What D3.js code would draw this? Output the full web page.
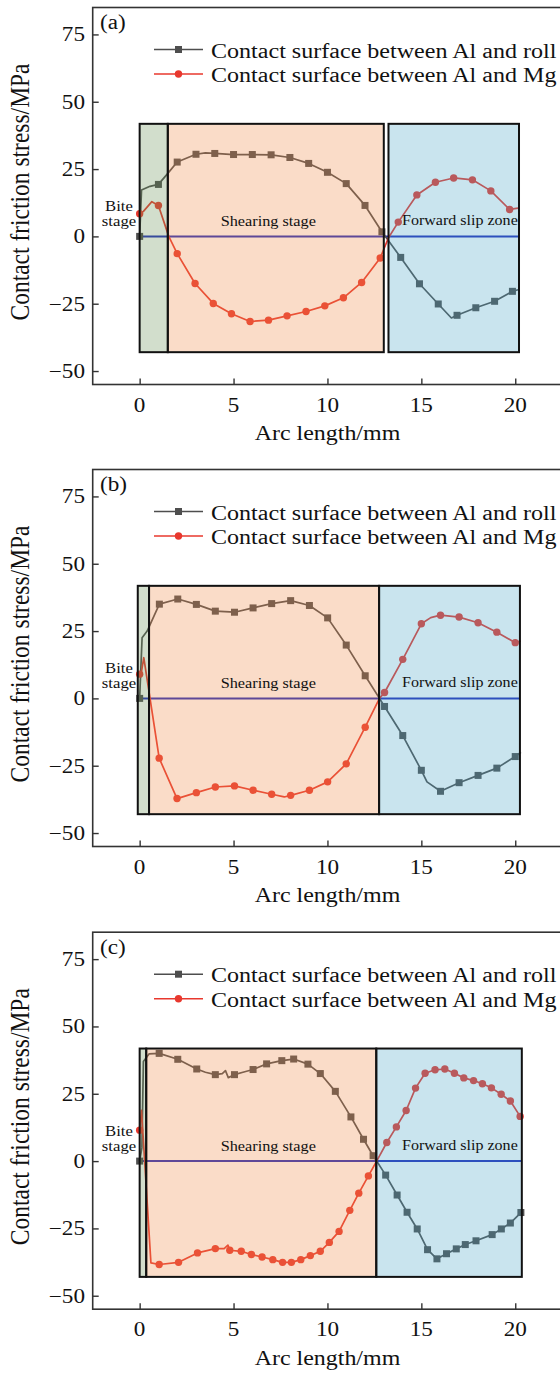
<!DOCTYPE html>
<html>
<head>
<meta charset="utf-8">
<script src="https://cdn.jsdelivr.net/npm/d3@7"></script>
<style>
  html, body { margin: 0; padding: 0; background: #fff; }
  text { font-family: "Liberation Serif", "Times New Roman", serif; fill: #111; }
</style>
</head>
<body>
<svg id="fig" width="560" height="1373"></svg>
<script>
// ---- tick values and text ----
const arcTicks = [0, 5, 10, 15, 20];
const stressTicks = [-50, -25, 0, 25, 50, 75];
const seriesNames = ["Contact surface between Al and roll", "Contact surface between Al and Mg"];
const panelLabels = ["(a)", "(b)", "(c)"];
const xTitle = "Arc length/mm";
const yTitle = "Contact friction stress/MPa";

// ---- series: [arc length mm, stress MPa, marker shown] ----
const rollA = [[0,0,1],[0.1,17.2,0],[0.55,18.6,0],[1.0,19.3,1],[1.5,23.4,0],[2.0,27.6,1],[3.0,30.5,1],[3.5,31.0,0],[4.0,30.8,1],[5,30.4,1],[6,30.4,1],[7,30.3,1],[8,29.3,1],[9,27.1,1],[10,23.8,1],[11,19.6,1],[12,11.5,1],[12.9,1.7,1],[13.9,-7.8,1],[14.9,-17.6,1],[15.9,-25.1,1],[16.6,-30.3,0],[16.9,-29.3,1],[17.9,-26.5,1],[18.9,-24.1,1],[19.85,-20.4,1],[20.15,-19.8,0]];
const mgA = [[0,8.4,1],[0.2,9.3,0],[0.65,12.9,0],[1.0,11.5,1],[1.55,0,0],[2.0,-6.4,1],[2.95,-17.5,1],[3.92,-24.9,1],[4.89,-28.7,1],[5.88,-31.6,1],[6.86,-31.1,1],[7.85,-29.5,1],[8.86,-27.9,1],[9.86,-25.8,1],[10.85,-22.8,1],[11.82,-17.1,1],[12.81,-8.0,1],[13.25,-0.5,0],[13.77,5.3,1],[14.76,15.4,1],[15.75,20.1,1],[16.72,21.7,1],[17.72,21.0,1],[18.7,16.9,1],[19.7,10.0,1],[20.15,10.5,0]];

const rollB = [[0,0,1],[0.13,22.5,0],[0.4,25,0],[1.05,35,1],[2.03,36.9,1],[3.02,34.9,1],[4.03,32.4,1],[5.05,32,1],[6.04,33.6,1],[7.03,35.2,1],[8.04,36.3,1],[9.04,34.5,1],[10.01,29.9,1],[11.0,19.8,1],[12.01,8.4,1],[12.77,0,0],[13.04,-3.0,1],[14.01,-13.8,1],[15.0,-26.7,1],[15.3,-31,0],[16.02,-34.5,1],[17.01,-31.3,1],[18.02,-28.6,1],[19.02,-25.9,1],[20.0,-21.6,1],[20.3,-20,0]];
const mgB = [[0,9,1],[0.1,10,0],[0.22,15.1,0],[1.04,-22.2,1],[1.99,-37.2,1],[3.02,-35,1],[4.03,-32.9,1],[5.05,-32.5,1],[6.04,-34.1,1],[7.03,-35.6,1],[7.7,-36.6,0],[8.04,-36,1],[9.04,-34.1,1],[10.01,-31,1],[11.0,-24.3,1],[12.01,-10.7,1],[12.77,0,0],[13.04,2.2,1],[14.01,14.5,1],[15.0,27.7,1],[15.5,30,0],[16.02,30.9,1],[17.01,30.2,1],[18.02,28.1,1],[19.02,24.6,1],[20.0,20.7,1],[20.3,21.3,0]];

const rollC = [[0,0,1],[0.12,5,0],[0.2,37,0],[0.5,39.8,0],[1.04,40,1],[2.03,37.8,1],[3.04,34.2,1],[3.5,33,0],[4.03,32.1,1],[4.4,32.5,0],[4.57,33.6,0],[4.72,31.0,0],[5.05,32.1,1],[5.5,33,0],[6.04,34,1],[6.76,36.1,1],[7.57,37.3,1],[8.2,37.9,1],[8.96,36,1],[9.62,32.5,1],[10.42,25.9,1],[11.25,16.4,1],[11.92,8.1,1],[12.43,2.0,1],[12.62,0,0],[13.1,-5.2,1],[13.71,-12.6,1],[14.24,-19,1],[14.78,-25.2,1],[15.33,-32.9,1],[15.83,-36.3,1],[16.34,-34.4,1],[16.86,-32.6,1],[17.34,-31,1],[17.91,-29.6,1],[18.77,-27.3,1],[19.26,-25.2,1],[19.74,-23,1],[20.3,-19.1,1]];
const mgC = [[0,11.5,1],[0.1,18.8,0],[0.6,-37.8,0],[1.04,-38.4,1],[2.07,-37.6,1],[3.08,-34.1,1],[4.03,-32.5,1],[4.5,-32.5,0],[4.7,-31.2,0],[4.8,-33.1,1],[5.41,-33.5,1],[5.95,-34.7,1],[6.52,-35.6,1],[7.09,-36.6,1],[7.61,-37.6,1],[8.08,-37.6,1],[8.58,-36.6,1],[9.09,-35.1,1],[9.62,-33.5,1],[10.1,-30.2,1],[10.62,-26.1,1],[11.19,-18.3,1],[11.67,-11.9,1],[12.18,-5.5,1],[12.62,0,0],[13.16,6.9,1],[13.67,12.7,1],[14.19,18.8,1],[14.69,27.1,1],[15.2,32.6,1],[15.73,33.9,1],[16.25,34.2,1],[16.76,32.6,1],[17.26,30.9,1],[17.78,29.9,1],[18.25,28.7,1],[18.73,27.2,1],[19.25,24.8,1],[19.74,22.3,1],[20.26,16.6,1]];

// ---- deformation stages: [start, end] in mm ----
const stageNames = ["Bite stage", "Shearing stage", "Forward slip zone"];
const stagesA = [[0, 1.5], [1.5, 13.0], [13.25, 20.2]];
const stagesB = [[-0.1, 0.5], [0.5, 12.75], [12.75, 20.25]];
const stagesC = [[0, 0.35], [0.35, 12.6], [12.6, 20.35]];
const stageStress = [-43, 41.8];

const panels = [
  { label: panelLabels[0], roll: rollA, mg: mgA, stages: stagesA },
  { label: panelLabels[1], roll: rollB, mg: mgB, stages: stagesB },
  { label: panelLabels[2], roll: rollC, mg: mgC, stages: stagesC }
];

// ---- layout ----
const SX = 1.13;                        // horizontal stretch of the lettering
const panelTop = [0, 462, 924.7];
const x = d3.scaleLinear().domain([-2.5, 22.5]).range([92.7, 562.2]);
const y = d3.scaleLinear().domain([-55, 85]).range([384.5, 7.5]);

const colors = { roll: "#4e4e4e", mg: "#e8382e", zero: "#202cba", axis: "#333" };
const stageFill = ["#6b9155", "#ee8a48", "#4ba5c6"];
const stageAlpha = 0.3;

const svg = d3.select("#fig");

function label(g, str, px, py, size, anchor, rot) {
  const t = g.append("g")
    .attr("transform", `translate(${px},${py}) scale(${SX},1)` + (rot ? ` rotate(${rot})` : ""));
  return t.append("text").attr("font-size", size).attr("text-anchor", anchor).text(str);
}

const line = d3.line().x(d => x(d[0])).y(d => y(d[1]));

panels.forEach((p, i) => {
  const g = svg.append("g").attr("transform", `translate(0,${panelTop[i]})`);
  const [x0, x1] = x.range();
  const [yb, yt] = y.range();

  // frame
  g.append("rect").attr("x", x0).attr("y", yt).attr("width", x1 - x0).attr("height", yb - yt)
    .attr("fill", "none").attr("stroke", colors.axis).attr("stroke-width", 1.6);

  // ticks point inward
  const yAxis = d3.axisLeft(y).tickValues(stressTicks).tickSizeInner(-6).tickSizeOuter(0).tickFormat("");
  const ya = g.append("g").attr("transform", `translate(${x0},0)`).call(yAxis);
  ya.select(".domain").remove();
  ya.selectAll("line").attr("stroke", colors.axis).attr("stroke-width", 1.4);
  const xAxis = d3.axisBottom(x).tickValues(arcTicks).tickSizeInner(-6).tickSizeOuter(0).tickFormat("");
  const xa = g.append("g").attr("transform", `translate(0,${yb})`).call(xAxis);
  xa.select(".domain").remove();
  xa.selectAll("line").attr("stroke", colors.axis).attr("stroke-width", 1.4);

  stressTicks.forEach(v => label(g, String(v).replace("-", "\u2212"), 85, y(v) + 6.9, 20.5, "end"));
  arcTicks.forEach(v => label(g, String(v), x(v), 411.5, 20.5, "middle"));

  label(g, xTitle, x(10), 440, 21.2, "middle");
  label(g, yTitle, 28.5, 192, 23.5, "middle", -90);

  // zero reference line
  g.append("line")
    .attr("x1", x(0)).attr("x2", x(p.stages[2][1]))
    .attr("y1", y(0)).attr("y2", y(0))
    .attr("stroke", colors.zero).attr("stroke-width", 2);

  // friction stress curves
  [[p.roll, colors.roll, "square"], [p.mg, colors.mg, "circle"]].forEach(([data, c, shape]) => {
    g.append("path").datum(data).attr("d", line)
      .attr("fill", "none").attr("stroke", c).attr("stroke-width", 1.7).attr("stroke-linejoin", "round");
    const pts = data.filter(d => d[2]);
    if (shape === "square") {
      g.selectAll(null).data(pts).enter().append("rect")
        .attr("x", d => x(d[0]) - 3.5).attr("y", d => y(d[1]) - 3.5)
        .attr("width", 7).attr("height", 7).attr("fill", c);
    } else {
      g.selectAll(null).data(pts).enter().append("circle")
        .attr("cx", d => x(d[0])).attr("cy", d => y(d[1])).attr("r", 3.7).attr("fill", c);
    }
  });

  // stage zones, tinted over the curves
  p.stages.forEach((s, k) => {
    g.append("rect")
      .attr("x", x(s[0])).attr("y", y(stageStress[1]))
      .attr("width", x(s[1]) - x(s[0])).attr("height", y(stageStress[0]) - y(stageStress[1]))
      .attr("fill", stageFill[k]).attr("fill-opacity", stageAlpha)
      .attr("stroke", "#111").attr("stroke-width", 2);
  });

  // stage names
  const [biteWord, stageWord] = stageNames[0].split(" ");
  label(g, biteWord, 119, y(0) - 25, 14.8, "middle");
  label(g, stageWord, 119, y(0) - 10, 14.8, "middle");
  label(g, stageNames[1], x(6.85), y(0) - 10.5, 14.4, "middle");
  label(g, stageNames[2], x(17.05), y(0) - 11, 14.2, "middle");

  // panel tag
  label(g, p.label, 100, 29, 20.5, "start");

  // legend
  const leg = [[colors.roll, "square", 49.5, 57.5], [colors.mg, "circle", 74, 82]];
  leg.forEach(([c, shape, ly, ty], k) => {
    g.append("line").attr("x1", 154).attr("x2", 203).attr("y1", ly).attr("y2", ly)
      .attr("stroke", c).attr("stroke-width", 1.6);
    if (shape === "square") {
      g.append("rect").attr("x", 178.5 - 3.5).attr("y", ly - 3.5).attr("width", 7).attr("height", 7).attr("fill", c);
    } else {
      g.append("circle").attr("cx", 178.5).attr("cy", ly).attr("r", 3.7).attr("fill", c);
    }
    label(g, seriesNames[k], 211, ty, 21.3, "start");
  });
});
</script>
</body>
</html>
